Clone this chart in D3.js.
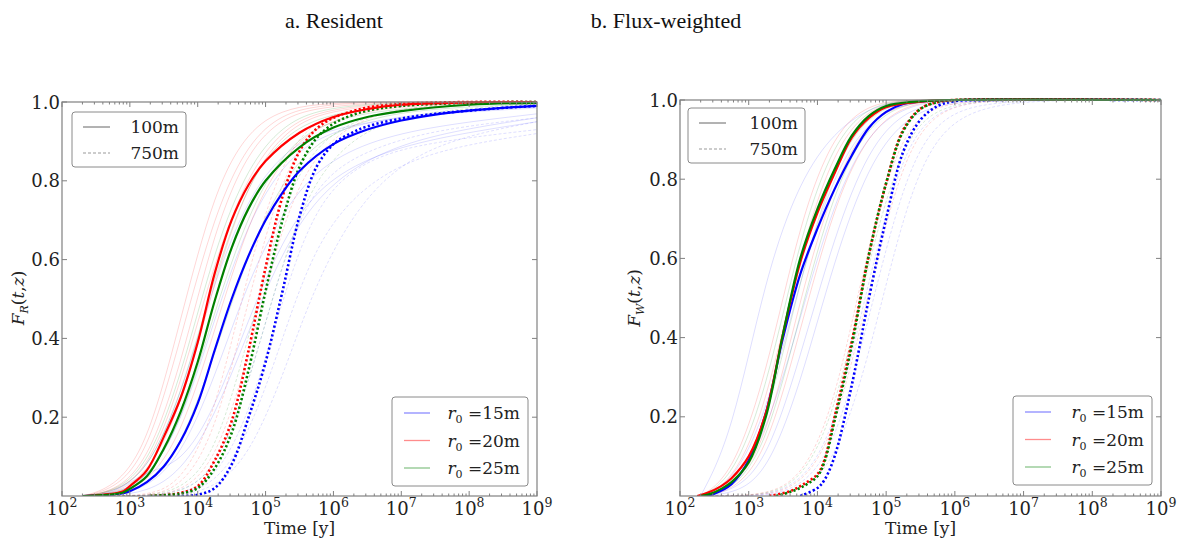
<!DOCTYPE html>
<html><head><meta charset="utf-8">
<script src="https://cdn.jsdelivr.net/npm/d3@7"></script>
<style>body{margin:0;background:#fff} svg{display:block}</style>
</head><body><svg id="c" width="1177" height="541"></svg>
<script>
// ---------------- DATA ----------------
const xTickExponents = [2,3,4,5,6,7,8,9];
const yTickValues = [0.2,0.4,0.6,0.8,1.0];
const panelTitles = ['a. Resident','b. Flux-weighted'];
const ySubscripts = ['R','W'];
const depthLabels = ['100m','750m'];
const radiusLabels = ['15m','20m','25m'];
const faintGrid = [2.3,2.75,3.25,3.75,4.25,4.75,5.25,5.75,6.5,7.5,9];

// Resident, mean curves [log10 t, F]
const resR15_100 = [[2.3,0],[2.6,0.002],[2.9,0.007],[3,0.012],[3.25,0.035],[3.5,0.075],[3.75,0.14],[4,0.235],[4.25,0.37],[4.5,0.5],[4.75,0.61],[5,0.7],[5.25,0.77],[5.5,0.825],[6,0.893],[6.5,0.93],[7,0.953],[7.5,0.968],[8,0.978],[8.5,0.985],[9,0.99]];
const resR20_100 = [[2.3,0],[2.6,0.003],[2.9,0.012],[3,0.025],[3.25,0.065],[3.5,0.15],[3.75,0.25],[4,0.39],[4.25,0.565],[4.5,0.7],[4.75,0.79],[5,0.85],[5.5,0.922],[6,0.962],[6.5,0.982],[7,0.993],[8,0.999],[9,1]];
const resR25_100 = [[2.3,0],[2.6,0.002],[2.9,0.009],[3,0.018],[3.25,0.05],[3.5,0.12],[3.75,0.215],[4,0.34],[4.25,0.495],[4.5,0.63],[4.75,0.73],[5,0.8],[5.5,0.885],[6,0.935],[6.5,0.962],[7,0.977],[8,0.993],[9,0.998]];
const resR15_750 = [[3.7,0],[4,0.003],[4.25,0.02],[4.5,0.08],[4.75,0.2],[5,0.34],[5.25,0.52],[5.5,0.71],[5.75,0.835],[6,0.893],[6.25,0.92],[6.5,0.938],[7,0.958],[7.5,0.97],[8,0.978],[8.5,0.985],[9,0.99]];
const resR20_750 = [[3.3,0],[3.5,0.002],[3.75,0.008],[4,0.025],[4.25,0.09],[4.5,0.19],[4.75,0.37],[5,0.58],[5.25,0.76],[5.5,0.875],[5.75,0.932],[6,0.96],[6.25,0.975],[6.5,0.986],[7,0.995],[8,1],[9,1]];
const resR25_750 = [[3.3,0],[3.5,0.002],[3.75,0.006],[4,0.02],[4.25,0.07],[4.5,0.16],[4.75,0.32],[5,0.52],[5.25,0.7],[5.5,0.835],[5.75,0.908],[6,0.945],[6.25,0.965],[6.5,0.978],[7,0.99],[8,0.998],[9,1]];

// Flux-weighted, mean curves
const fluxR15_100 = [[2.35,0],[2.5,0.006],[2.75,0.03],[3,0.09],[3.25,0.21],[3.5,0.4],[3.75,0.56],[4,0.675],[4.25,0.775],[4.5,0.86],[4.75,0.93],[5,0.97],[5.25,0.99],[5.5,0.996],[6,1],[9,1]];
const fluxR20_100 = [[2.25,0],[2.4,0.008],[2.6,0.025],[2.75,0.045],[3,0.1],[3.25,0.21],[3.5,0.41],[3.75,0.59],[4,0.715],[4.25,0.815],[4.5,0.905],[4.75,0.955],[5,0.982],[5.5,0.996],[6,1],[9,1]];
const fluxR25_100 = [[2.3,0],[2.45,0.006],[2.6,0.018],[2.75,0.035],[3,0.085],[3.25,0.2],[3.5,0.41],[3.75,0.6],[4,0.725],[4.25,0.825],[4.5,0.91],[4.75,0.96],[5,0.985],[5.5,0.997],[6,1],[9,1]];
const fluxR15_750 = [[3.75,0],[4,0.02],[4.1,0.04],[4.25,0.1],[4.5,0.28],[4.75,0.5],[5,0.7],[5.25,0.87],[5.5,0.95],[5.75,0.985],[6,0.997],[6.5,1],[9,1]];
const fluxR20_750 = [[3.3,0],[3.6,0.012],[3.8,0.03],[4,0.055],[4.1,0.09],[4.25,0.2],[4.5,0.39],[4.75,0.61],[5,0.79],[5.25,0.925],[5.5,0.978],[5.75,0.995],[6,1],[9,1]];
const fluxR25_750 = [[3.4,0],[3.6,0.01],[3.8,0.025],[4,0.05],[4.1,0.085],[4.25,0.19],[4.5,0.38],[4.75,0.61],[5,0.79],[5.25,0.922],[5.5,0.977],[5.75,0.995],[6,1],[9,1]];

// Individual realisations (values on faintGrid)
const resFaintR15_100 = [
  [0,0.005,0.04,0.18,0.45,0.7,0.84,0.91,0.95,0.975,0.99],
  [0,0.002,0.02,0.1,0.3,0.55,0.72,0.83,0.9,0.94,0.97],
  [0,0.003,0.065,0.08,0.22,0.45,0.65,0.78,0.86,0.91,0.95],
  [0,0.001,0.01,0.06,0.2,0.42,0.62,0.76,0.86,0.92,0.96],
  [0,0.008,0.06,0.25,0.55,0.76,0.87,0.92,0.95,0.97,0.985]];
const resFaintR20_100 = [
  [0,0.02,0.12,0.45,0.78,0.93,0.98,0.995,1,1,1],
  [0,0.01,0.08,0.33,0.68,0.88,0.96,0.985,0.997,1,1],
  [0,0.005,0.05,0.22,0.55,0.8,0.92,0.97,0.99,1,1],
  [0,0.01,0.06,0.28,0.6,0.82,0.93,0.975,0.993,1,1],
  [0,0.003,0.03,0.15,0.42,0.7,0.86,0.94,0.98,0.995,1],
  [0,0.015,0.1,0.4,0.72,0.9,0.97,0.99,1,1,1]];
const resFaintR25_100 = [
  [0,0.01,0.07,0.3,0.63,0.84,0.94,0.98,0.995,1,1],
  [0,0.004,0.04,0.18,0.47,0.72,0.87,0.94,0.975,0.99,0.998],
  [0,0.008,0.06,0.25,0.56,0.8,0.91,0.96,0.985,0.997,1],
  [0,0.002,0.025,0.12,0.36,0.62,0.8,0.9,0.96,0.985,0.995]];
const resFaintR15_750 = [
  [0,0,0,0.005,0.04,0.2,0.5,0.75,0.86,0.9,0.93],
  [0,0,0,0.003,0.03,0.15,0.4,0.65,0.8,0.88,0.92],
  [0,0,0.001,0.01,0.06,0.28,0.6,0.8,0.88,0.93,0.96],
  [0,0,0,0.002,0.02,0.1,0.3,0.55,0.78,0.9,0.95]];
const resFaintR20_750 = [
  [0,0,0,0.02,0.15,0.5,0.82,0.95,0.99,1,1],
  [0,0,0,0.01,0.08,0.35,0.7,0.88,0.97,0.995,1],
  [0,0,0.002,0.03,0.2,0.58,0.86,0.96,0.99,1,1]];
const resFaintR25_750 = [
  [0,0,0.001,0.015,0.1,0.4,0.74,0.9,0.97,0.99,1],
  [0,0,0,0.008,0.06,0.28,0.6,0.82,0.94,0.98,0.995]];

const fluxFaintR15_100 = [
  [0,0.15,0.56,0.8,0.92,0.98,1,1,1,1,1],
  [0,0.03,0.2,0.55,0.82,0.95,0.99,1,1,1,1],
  [0,0.01,0.08,0.35,0.66,0.88,0.97,0.995,1,1,1],
  [0,0.005,0.05,0.28,0.6,0.84,0.95,0.99,1,1,1],
  [0,0.02,0.15,0.45,0.75,0.92,0.98,1,1,1,1]];
const fluxFaintR20_100 = [
  [0,0.03,0.22,0.62,0.88,0.98,1,1,1,1,1],
  [0,0.05,0.3,0.7,0.92,0.99,1,1,1,1,1],
  [0,0.015,0.13,0.5,0.8,0.95,0.99,1,1,1,1],
  [0,0.01,0.1,0.42,0.74,0.92,0.985,1,1,1,1]];
const fluxFaintR25_100 = [
  [0,0.04,0.26,0.66,0.9,0.985,1,1,1,1,1],
  [0,0.012,0.12,0.46,0.78,0.94,0.99,1,1,1,1],
  [0,0.02,0.17,0.55,0.84,0.965,0.995,1,1,1,1]];
const fluxFaintR15_750 = [
  [0,0,0.002,0.02,0.12,0.45,0.8,0.96,0.995,1,1],
  [0,0,0.001,0.012,0.08,0.35,0.72,0.93,0.99,1,1],
  [0,0,0.003,0.03,0.16,0.55,0.88,0.98,1,1,1]];
const fluxFaintR20_750 = [
  [0,0,0.005,0.04,0.22,0.65,0.93,0.99,1,1,1],
  [0,0,0.003,0.025,0.15,0.52,0.86,0.98,1,1,1]];
const fluxFaintR25_750 = [
  [0,0,0.004,0.035,0.2,0.6,0.9,0.985,1,1,1]];

// ---------------- STYLE / LAYOUT ----------------
const seriesColors = ['#0000ff','#ff0000','#008000'];
const legendColors = ['#8c8cff','#ff8c8c','#8cc48c'];
const serif = '"DejaVu Serif", serif';

const panels = [
  {x0:62, x1:537, y0:496, y1:102, titleX:334,
   main:[[resR15_100,resR20_100,resR25_100],[resR15_750,resR20_750,resR25_750]],
   faint:[[resFaintR15_100,resFaintR20_100,resFaintR25_100],[resFaintR15_750,resFaintR20_750,resFaintR25_750]],
   ylabX:24, leg1:[72,112,114,55], leg2:[392,397,136,89]},
  {x0:680, x1:1161, y0:496, y1:100, titleX:666,
   main:[[fluxR15_100,fluxR20_100,fluxR25_100],[fluxR15_750,fluxR20_750,fluxR25_750]],
   faint:[[fluxFaintR15_100,fluxFaintR20_100,fluxFaintR25_100],[fluxFaintR15_750,fluxFaintR20_750,fluxFaintR25_750]],
   ylabX:640, leg1:[688,108,117,55], leg2:[1013,396,139,89]}
];

const svg = d3.select('#c');
svg.append('rect').attr('width',1177).attr('height',541).attr('fill','#fff');

panels.forEach((p, pi) => {
  const xs = d3.scaleLog().domain([1e2,1e9]).range([p.x0,p.x1]);
  const ys = d3.scaleLinear().domain([0,1]).range([p.y0,p.y1]);
  const g = svg.append('g');
  const clipId = 'clip'+pi;
  svg.append('clipPath').attr('id',clipId).append('rect')
    .attr('x',p.x0).attr('y',p.y1-2).attr('width',p.x1-p.x0).attr('height',p.y0-p.y1+2);

  svg.append('text').attr('x',p.titleX).attr('y',28).attr('text-anchor','middle')
    .attr('font-family','"Liberation Serif", serif').attr('font-size',22).attr('fill','#111')
    .text(panelTitles[pi]);

  const lineMain = d3.line().x(d=>xs(Math.pow(10,d[0]))).y(d=>ys(d[1])).curve(d3.curveCatmullRom.alpha(0.5));
  const lineFaint = d3.line().x(d=>xs(Math.pow(10,d[0]))).y(d=>ys(d[1])).curve(d3.curveBasis);
  const plot = g.append('g').attr('clip-path',`url(#${clipId})`);

  p.faint.forEach((byRadius, di) => {
    byRadius.forEach((curves, ri) => {
      curves.forEach(vals => {
        const pts = faintGrid.map((t,i)=>[t, vals[i]]);
        plot.append('path').attr('d', lineFaint(pts)).attr('fill','none')
          .attr('stroke', seriesColors[ri]).attr('stroke-width',1)
          .attr('stroke-opacity', ri===0 ? 0.13 : 0.16)
          .attr('stroke-dasharray', di===1 ? '3,2' : null);
      });
    });
  });
  [1,0].forEach(di => {
    p.main[di].forEach((pts, ri) => {
      plot.append('path').attr('d', lineMain(pts)).attr('fill','none')
        .attr('stroke', seriesColors[ri]).attr('stroke-width', di===1 ? 2.6 : 2.2)
        .attr('stroke-dasharray', di===1 ? '2.2,2.3' : null);
    });
  });

  g.append('rect').attr('x',p.x0).attr('y',p.y1).attr('width',p.x1-p.x0).attr('height',p.y0-p.y1)
    .attr('fill','none').attr('stroke','#808080').attr('stroke-width',1.2);

  const tk = g.append('g').attr('stroke','#808080').attr('stroke-width',1);
  xTickExponents.forEach(e => {
    const x = xs(Math.pow(10,e));
    tk.append('line').attr('x1',x).attr('x2',x).attr('y1',p.y0).attr('y2',p.y0-5);
    tk.append('line').attr('x1',x).attr('x2',x).attr('y1',p.y1).attr('y2',p.y1+5);
    if (e < 9) for (let m=2;m<10;m++){
      const xm = xs(m*Math.pow(10,e));
      tk.append('line').attr('x1',xm).attr('x2',xm).attr('y1',p.y0).attr('y2',p.y0-2.5);
      tk.append('line').attr('x1',xm).attr('x2',xm).attr('y1',p.y1).attr('y2',p.y1+2.5);
    }
    const t = svg.append('text').attr('x',x).attr('y',515).attr('text-anchor','middle')
      .attr('font-family',serif).attr('font-size',18).attr('fill','#222');
    t.append('tspan').text('10');
    t.append('tspan').attr('font-size',12.5).attr('dy',-8).text(e);
  });
  yTickValues.forEach(v => {
    const y = ys(v);
    tk.append('line').attr('x1',p.x0).attr('x2',p.x0+5).attr('y1',y).attr('y2',y);
    tk.append('line').attr('x1',p.x1).attr('x2',p.x1-5).attr('y1',y).attr('y2',y);
    svg.append('text').attr('x',p.x0-2).attr('y',y+6.5).attr('text-anchor','end')
      .attr('font-family',serif).attr('font-size',18).attr('fill','#222').text(v.toFixed(1));
  });

  svg.append('text').attr('x',(p.x0+p.x1)/2).attr('y',534).attr('text-anchor','middle')
    .attr('font-family',serif).attr('font-size',17).attr('fill','#222').text('Time [y]');
  const yl = svg.append('text').attr('transform',`translate(${p.ylabX},298) rotate(-90)`)
    .attr('text-anchor','middle').attr('font-family',serif).attr('font-size',17).attr('fill','#222');
  yl.append('tspan').attr('font-style','italic').text('F');
  yl.append('tspan').attr('font-style','italic').attr('font-size',11).attr('dy',4).text(ySubscripts[pi]);
  yl.append('tspan').attr('dy',-4).text('(');
  yl.append('tspan').attr('font-style','italic').text('t');
  yl.append('tspan').text(',');
  yl.append('tspan').attr('font-style','italic').text('z');
  yl.append('tspan').text(')');

  const [lx,ly,lw,lh] = p.leg1;
  svg.append('rect').attr('x',lx).attr('y',ly).attr('width',lw).attr('height',lh).attr('rx',3)
    .attr('fill','#fff').attr('stroke','#8a8a8a').attr('stroke-width',1);
  depthLabels.forEach((lab,i) => {
    const yy = ly + 15 + i*26;
    svg.append('line').attr('x1',lx+11).attr('x2',lx+38).attr('y1',yy).attr('y2',yy)
      .attr('stroke', i===0 ? '#666' : '#999').attr('stroke-width',1)
      .attr('stroke-dasharray', i===1 ? '3,2' : null);
    svg.append('text').attr('x',lx+lw-7).attr('y',yy+6).attr('text-anchor','end')
      .attr('font-family',serif).attr('font-size',17).attr('fill','#222').text(lab);
  });

  const [bx,by,bw,bh] = p.leg2;
  svg.append('rect').attr('x',bx).attr('y',by).attr('width',bw).attr('height',bh).attr('rx',3)
    .attr('fill','#fff').attr('stroke','#8a8a8a').attr('stroke-width',1);
  radiusLabels.forEach((lab,i) => {
    const yy = by + 16 + i*27.5;
    svg.append('line').attr('x1',bx+12).attr('x2',bx+38).attr('y1',yy).attr('y2',yy)
      .attr('stroke', legendColors[i]).attr('stroke-width',1.3);
    const t = svg.append('text').attr('x',bx+bw-8).attr('y',yy+6).attr('text-anchor','end')
      .attr('font-family',serif).attr('font-size',17).attr('fill','#222');
    t.append('tspan').attr('font-style','italic').text('r');
    t.append('tspan').attr('font-size',11).attr('dy',4).text('0');
    t.append('tspan').attr('dy',-4).text(' =' + lab);
  });
});
</script></body></html>
